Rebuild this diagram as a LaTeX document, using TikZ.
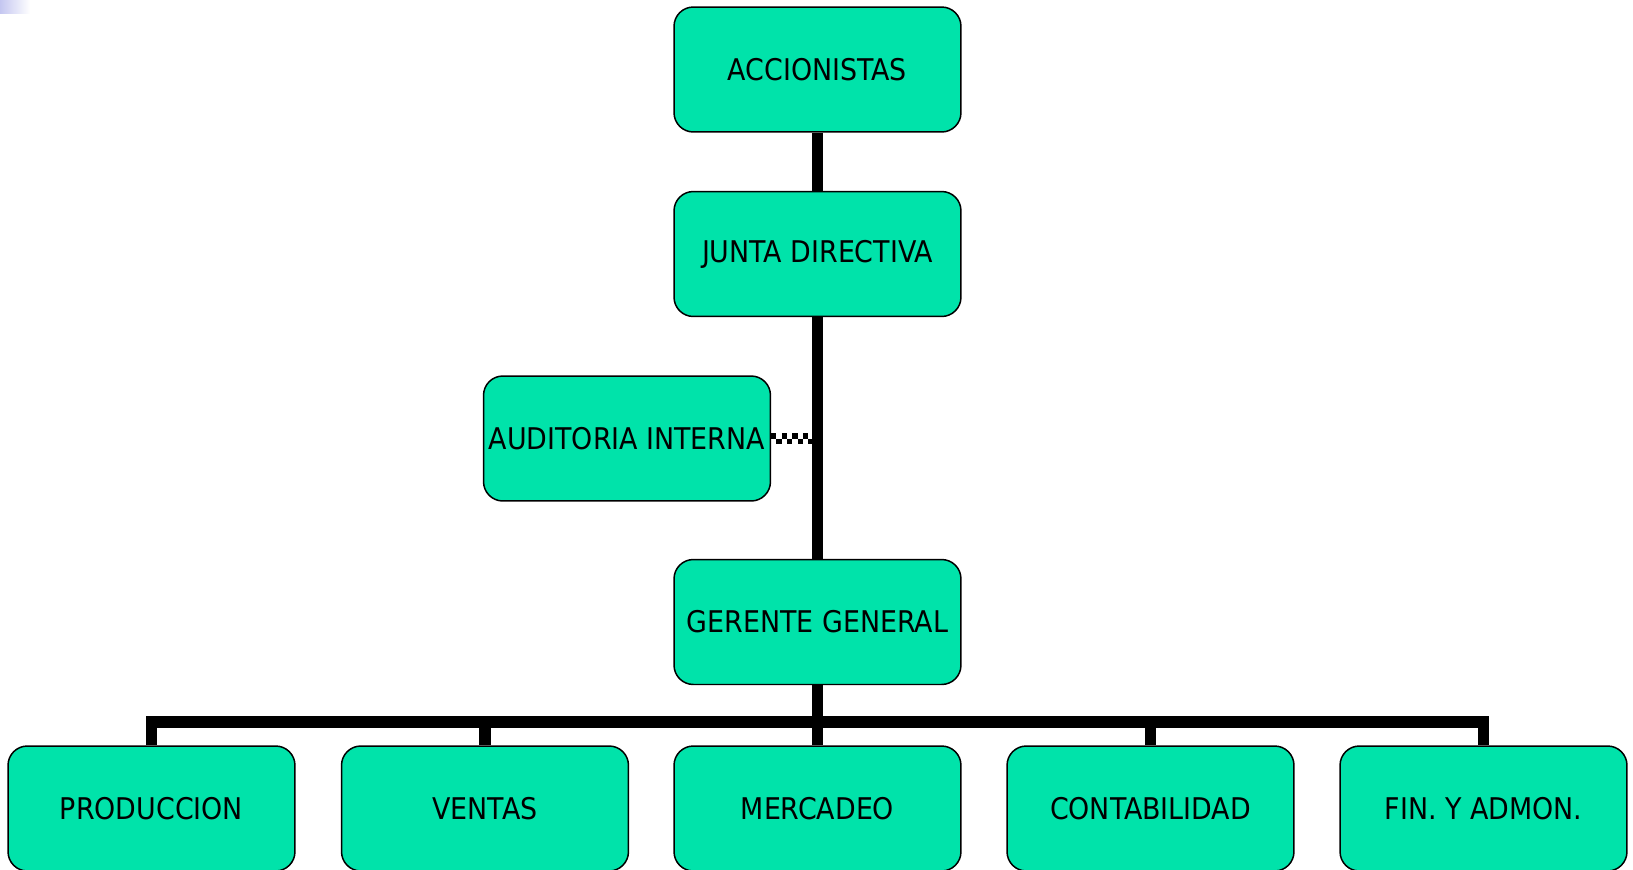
\documentclass[tikz,border=0pt]{standalone}
\usepackage{xcolor}
\usepackage{tikz}
\usepackage{fontspec}
\setmainfont{DejaVu Sans Condensed}
\definecolor{boxgreen}{RGB}{0,227,170}
\definecolor{cornerblue}{RGB}{196,198,240}

\begin{document}
\begin{tikzpicture}[x=0.02cm,y=-0.02cm,
        unit/.style={draw=black,line width=0.85pt,fill=boxgreen,rounded corners=11pt,
            minimum width=5.74cm,minimum height=2.5cm,inner sep=0pt,font=\fontsize{17}{20}\selectfont},
        link/.style={line width=6.3pt,black},
        staff/.style={line width=3pt,black,dash pattern=on 3pt off 3pt}]
            \useasboundingbox (0,0) rectangle (1633,869);
            \shade [left color=cornerblue,right color=white] (0,0) rectangle (30,13);

            \node[unit] (acc) at (817.5,69.5) {ACCIONISTAS};
            \node[unit] (jun) at (817.5,254) {JUNTA DIRECTIVA};
            \node[unit] (aud) at (627,438.5) {AUDITORIA INTERNA};
            \node[unit] (ger) at (817.5,622) {GERENTE GENERAL};

            \node[unit] (pro) at (151.5,808.5) {PRODUCCION};
            \node[unit] (ven) at (485,808.5) {VENTAS};
            \node[unit] (mer) at (817.5,808.5) {MERCADEO};
            \node[unit] (con) at (1150.5,808.5) {CONTABILIDAD};
            \node[unit] (fin) at (1483.5,808.5) {FIN. Y ADMON.};

            \coordinate (bar) at (817.5,722);

            \draw [link] (acc.south) -- (jun.north);
            \draw [link] (jun.south) -- (ger.north);
            \draw [link] (ger.south) -- (bar);
            \draw [link] (pro.north) |- (bar) -| (fin.north);
            \draw [link] (ven.north) -- (ven.north |- bar);
            \draw [link] (mer.north) -- (bar);
            \draw [link] (con.north) -- (con.north |- bar);

            \draw [staff] ([yshift=1.5pt]aud.east) -- ([yshift=1.5pt]aud.east -| jun.south);
            \draw [staff,dash phase=3pt] ([yshift=-1.5pt]aud.east) -- ([yshift=-1.5pt]aud.east -| jun.south);
        \end{tikzpicture}
\end{document}
